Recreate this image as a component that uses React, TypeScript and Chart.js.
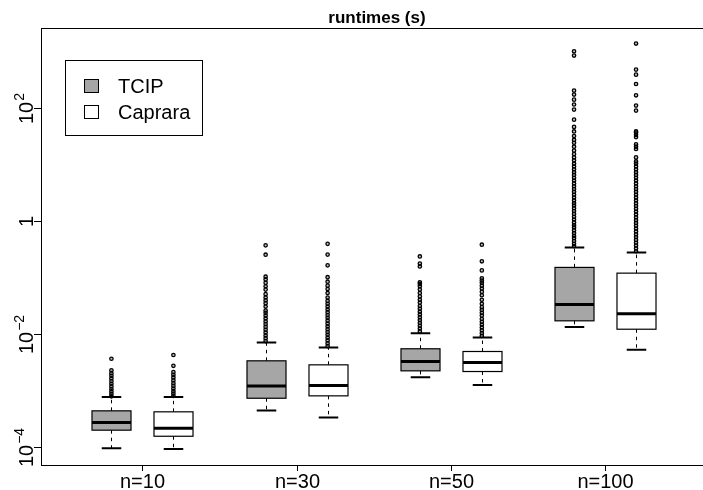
import React, { useEffect, useRef } from "react";
import { Chart, registerables } from "chart.js";

Chart.register(...registerables);

// ---------- data ----------
const categories = ["n=10", "n=30", "n=50", "n=100"];
const seriesNames = ["TCIP", "Caprara"];
const seriesFill = ["#A6A6A6", "#FFFFFF"];
const chartTitle = "runtimes (s)";

// y tick labels: base + superscript exponent
const yTickValues = [1e-4, 1e-2, 1, 1e2];
const yTickBase = ["10", "10", "1", "10"];
const yTickExp = ["\u22124", "\u22122", "", "2"];

// five-number summaries per category: [lower whisker, Q1, median, Q3, upper whisker]
const tcipStats = [
  [9.4e-5, 1.96e-4, 2.67e-4, 4.31e-4, 7.6e-4],
  [4.37e-4, 7.2e-4, 1.19e-3, 3.31e-3, 6.98e-3],
  [1.7e-3, 2.2e-3, 3.22e-3, 5.41e-3, 1.02e-2],
  [1.31e-2, 1.69e-2, 3.29e-2, 0.149, 0.337],
];
const capraraStats = [
  [9.1e-5, 1.53e-4, 2.13e-4, 4.14e-4, 7.6e-4],
  [3.28e-4, 7.94e-4, 1.21e-3, 2.81e-3, 5.7e-3],
  [1.24e-3, 2.14e-3, 3.09e-3, 4.84e-3, 8.57e-3],
  [5.19e-3, 1.2e-2, 2.25e-2, 0.118, 0.275],
];

// outliers per category
const tcipOut10 = [7.8e-4, 8.6e-4, 9.5e-4, 1.05e-3, 1.17e-3, 1.3e-3, 1.45e-3, 1.62e-3, 1.8e-3, 2.0e-3, 2.25e-3, 3.6e-3];
const tcipOut30 = [7.41e-3, 8.32e-3, 9.33e-3, 1.047e-2, 1.175e-2, 1.318e-2, 1.479e-2, 1.66e-2, 1.862e-2, 2.089e-2, 2.344e-2, 2.57e-2, 3.02e-2, 3.47e-2, 3.89e-2, 4.37e-2, 5.01e-2, 6.03e-2, 6.92e-2, 7.94e-2, 9.12e-2, 0.102, 0.25, 0.366];
const tcipOut50 = [1.1e-2, 1.23e-2, 1.38e-2, 1.55e-2, 1.74e-2, 1.95e-2, 2.19e-2, 2.45e-2, 2.75e-2, 3.09e-2, 3.55e-2, 3.98e-2, 4.57e-2, 5.25e-2, 6.03e-2, 6.92e-2, 7.59e-2, 8.13e-2, 0.155, 0.174, 0.233];
const tcipOut100 = [0.355, 0.389, 0.437, 0.49, 0.537, 0.603, 0.676, 0.759, 0.832, 0.933, 1.05, 1.17, 1.32, 1.48, 1.66, 1.86, 2.04, 2.29, 2.57, 2.88, 3.24, 3.63, 4.07, 4.57, 5.13, 5.75, 6.46, 7.24, 8.13, 9.12, 10.2, 11.7, 13.2, 15.1, 17.4, 20.4, 24, 26.9, 31.6, 38, 45.7, 61.5, 92.5, 114, 139, 171, 201, 838, 998];

const capraraOut10 = [7.9e-4, 8.7e-4, 9.6e-4, 1.07e-3, 1.19e-3, 1.33e-3, 1.5e-3, 1.68e-3, 1.87e-3, 2.09e-3, 2.7e-3, 4.2e-3];
const capraraOut30 = [6.03e-3, 6.76e-3, 7.59e-3, 8.51e-3, 9.55e-3, 1.07e-2, 1.2e-2, 1.35e-2, 1.51e-2, 1.7e-2, 1.91e-2, 2.14e-2, 2.4e-2, 2.69e-2, 3.02e-2, 3.39e-2, 3.8e-2, 4.37e-2, 5.25e-2, 6.17e-2, 7.08e-2, 8.32e-2, 0.1, 0.162, 0.251, 0.389];
const capraraOut50 = [9.12e-3, 1.02e-2, 1.15e-2, 1.29e-2, 1.45e-2, 1.62e-2, 1.82e-2, 2.09e-2, 2.34e-2, 2.63e-2, 2.95e-2, 3.39e-2, 3.98e-2, 4.79e-2, 5.5e-2, 6.31e-2, 7.08e-2, 7.94e-2, 8.71e-2, 9.55e-2, 0.132, 0.191, 0.376];
const capraraOut100 = [0.288, 0.324, 0.363, 0.407, 0.457, 0.513, 0.575, 0.646, 0.724, 0.813, 0.912, 1.02, 1.15, 1.29, 1.45, 1.62, 1.82, 2.04, 2.29, 2.57, 2.88, 3.24, 3.63, 4.07, 4.57, 5.13, 5.75, 6.46, 7.24, 8.13, 9.12, 10.2, 11.2, 13.2, 18.6, 20.4, 22.4, 30.2, 33.1, 36.3, 38, 88.9, 109, 166, 263, 385, 473, 1368];

const tcipOutliers = [tcipOut10, tcipOut30, tcipOut50, tcipOut100];
const capraraOutliers = [capraraOut10, capraraOut30, capraraOut50, capraraOut100];

// ---------- layout/style constants ----------
const groupOffsets = [-0.201, 0.201];
const boxWidth = 0.253;
const FONT = '"Liberation Sans", Arial, Helvetica, sans-serif';

const allStats = [tcipStats, capraraStats];
const allOutliers = [tcipOutliers, capraraOutliers];

const rPlugin = {
  id: "rBoxplot",
  beforeDatasetsDraw(chart: any) {
    const ctx = chart.ctx as CanvasRenderingContext2D;
    const xs = chart.scales.x;
    const ys = chart.scales.y;
    const half = (xs.getPixelForValue(boxWidth) - xs.getPixelForValue(0)) / 2;
    ctx.save();
    allStats.forEach((stats, si) => {
      stats.forEach((st, ci) => {
        const cx = Math.round(xs.getPixelForValue(ci + 1 + groupOffsets[si])) + 0.5;
        const [lo, q1, med, q3, hi] = st.map((v) => ys.getPixelForValue(v));
        // dashed whiskers
        ctx.strokeStyle = "#000";
        ctx.lineWidth = 1;
        ctx.setLineDash([3.5, 4]);
        ctx.beginPath();
        ctx.moveTo(cx, q3);
        ctx.lineTo(cx, hi);
        ctx.moveTo(cx, q1);
        ctx.lineTo(cx, lo);
        ctx.stroke();
        ctx.setLineDash([]);
        // staples
        ctx.lineWidth = 2;
        ctx.beginPath();
        ctx.moveTo(cx - half / 2, hi);
        ctx.lineTo(cx + half / 2, hi);
        ctx.moveTo(cx - half / 2, lo);
        ctx.lineTo(cx + half / 2, lo);
        ctx.stroke();
        // box
        ctx.fillStyle = seriesFill[si];
        ctx.fillRect(cx - half, q3, 2 * half, q1 - q3);
        ctx.lineWidth = 1.2;
        ctx.strokeRect(cx - half, q3, 2 * half, q1 - q3);
        // median
        ctx.lineWidth = 3;
        ctx.beginPath();
        ctx.moveTo(cx - half, med);
        ctx.lineTo(cx + half, med);
        ctx.stroke();
      });
    });
    ctx.restore();
  },
  afterDraw(chart: any) {
    const ctx = chart.ctx as CanvasRenderingContext2D;
    const xs = chart.scales.x;
    const ys = chart.scales.y;
    const a = chart.chartArea;
    ctx.save();
    ctx.strokeStyle = "#000";
    ctx.fillStyle = "#000";
    ctx.lineWidth = 1;
    // frame
    ctx.strokeRect(Math.round(a.left) + 0.5, Math.round(a.top) + 0.5, Math.round(a.right - a.left), Math.round(a.bottom - a.top));
    // x ticks + labels
    ctx.font = `20px ${FONT}`;
    ctx.textAlign = "center";
    ctx.textBaseline = "alphabetic";
    categories.forEach((c, i) => {
      const x = Math.round(xs.getPixelForValue(i + 1)) + 0.5;
      ctx.beginPath();
      ctx.moveTo(x, a.bottom);
      ctx.lineTo(x, a.bottom + 6);
      ctx.stroke();
      ctx.fillText(c, x, a.bottom + 23);
    });
    // y ticks + rotated labels
    yTickValues.forEach((v, i) => {
      const y = Math.round(ys.getPixelForValue(v)) + 0.5;
      ctx.beginPath();
      ctx.moveTo(a.left, y);
      ctx.lineTo(a.left - 7, y);
      ctx.stroke();
      ctx.save();
      ctx.translate(a.left - 8, y);
      ctx.rotate(-Math.PI / 2);
      ctx.font = `20px ${FONT}`;
      const wb = ctx.measureText(yTickBase[i]).width;
      ctx.font = `14px ${FONT}`;
      const we = yTickExp[i] ? ctx.measureText(yTickExp[i]).width + 1 : 0;
      const start = -(wb + we) / 2;
      ctx.textAlign = "left";
      ctx.font = `20px ${FONT}`;
      ctx.fillText(yTickBase[i], start, 0);
      if (yTickExp[i]) {
        ctx.font = `14px ${FONT}`;
        ctx.fillText(yTickExp[i], start + wb + 1, -9);
      }
      ctx.restore();
    });
    // title
    ctx.font = `bold 17px ${FONT}`;
    ctx.textAlign = "center";
    ctx.fillText(chartTitle, (a.left + a.right) / 2, 23);
    // legend
    ctx.lineWidth = 1;
    ctx.strokeRect(65.5, 60.5, 137, 75);
    ctx.font = `20px ${FONT}`;
    ctx.textAlign = "left";
    seriesNames.forEach((n, i) => {
      const yTop = 79.5 + i * 26;
      ctx.fillStyle = seriesFill[i];
      ctx.fillRect(84.5, yTop, 14, 13);
      ctx.strokeStyle = "#000";
      ctx.strokeRect(84.5, yTop, 14, 13);
      ctx.fillStyle = "#000";
      ctx.fillText(n, 118, yTop + 13.5);
    });
    ctx.restore();
  },
};

export default function App() {
  const ref = useRef<HTMLCanvasElement | null>(null);
  useEffect(() => {
    if (!ref.current) return;
    const datasets = seriesNames.map((name, si) => ({
      label: name,
      data: allOutliers[si].flatMap((vals, ci) =>
        vals.map((v) => ({ x: ci + 1 + groupOffsets[si], y: v }))
      ),
      pointRadius: 1.7,
      pointBorderWidth: 1.3,
      pointBorderColor: "#000",
      pointBackgroundColor: "rgba(0,0,0,0.25)",
      showLine: false,
    }));
    const chart = new Chart(ref.current, {
      type: "scatter",
      data: { datasets },
      options: {
        animation: false,
        responsive: false,
        devicePixelRatio: 1,
        layout: { padding: { left: 41, top: 28, right: 7, bottom: 25 } },
        scales: {
          x: { type: "linear", min: 0.3424, max: 4.7, display: false },
          y: { type: "logarithmic", min: 4.74e-5, max: 2576, display: false },
        },
        plugins: {
          legend: { display: false },
          tooltip: { enabled: false },
          title: { display: false },
        },
      },
      plugins: [rPlugin],
    } as any);
    return () => chart.destroy();
  }, []);
  return (
    <div style={{ position: "fixed", left: 0, top: 0, width: 703, height: 490, overflow: "hidden", background: "#fff" }}>
      <canvas ref={ref} width={720} height={490} style={{ display: "block" }} />
    </div>
  );
}
